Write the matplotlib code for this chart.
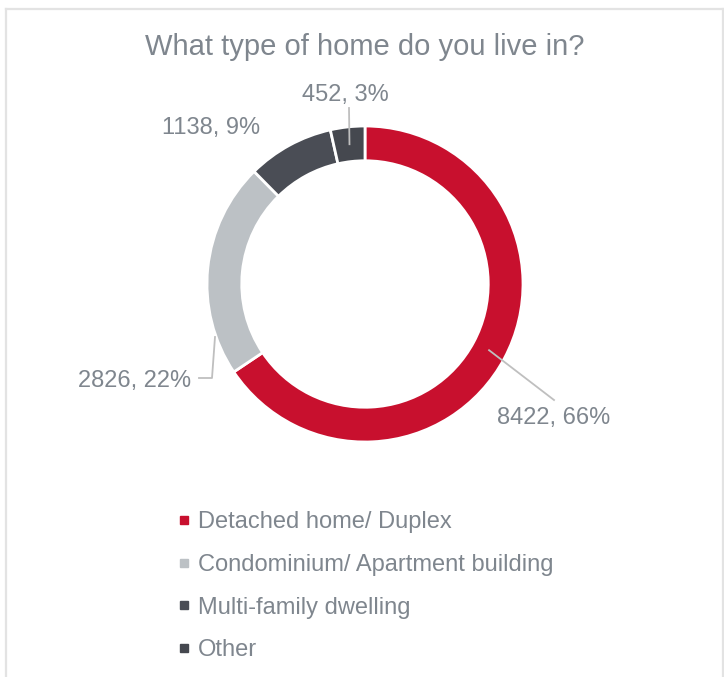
import matplotlib
matplotlib.use("Agg")
import numpy as np
import matplotlib.pyplot as plt
from matplotlib.lines import Line2D

categories = ["Detached home/ Duplex", "Condominium/ Apartment building",
              "Multi-family dwelling", "Other"]
counts = [8422, 2826, 1138, 452]
percents = [66, 22, 9, 3]
colors = ["#C8102E", "#BCC1C5", "#4A4D55", "#45484F"]

text_gray = "#7F868E"
line_gray = "#BFBFBF"
plt.rcParams["font.family"] = ["Liberation Sans", "DejaVu Sans"]

W, H = 724, 677
fig = plt.figure(figsize=(W / 100, H / 100), dpi=100)
ax = fig.add_axes([0, 0, 1, 1])

# donut centre and radius in pixels
cx, cy, R = 365, 284, 158


def px(x, y):
    return (x - cx) / R, (cy - y) / R


wedges, _ = ax.pie(counts, colors=colors, startangle=90, counterclock=False,
                   radius=1.0,
                   wedgeprops=dict(width=0.22, edgecolor="white", linewidth=2.0))
ax.set_xlim(-cx / R, (W - cx) / R)
ax.set_ylim(-(H - cy) / R, cy / R)
ax.set_aspect("auto")
ax.axis("off")

labels = [f"{c}, {p}%" for c, p in zip(counts, percents)]

mid = lambda w: np.deg2rad((w.theta1 + w.theta2) / 2)
# Detached
a = mid(wedges[0])
p0 = (0.89 * np.cos(a), 0.89 * np.sin(a))
ax.plot([p0[0], px(554, 400)[0]], [p0[1], px(554, 400)[1]], color=line_gray, lw=1.3)
ax.text(*px(554, 418), labels[0], ha="center", va="center", fontsize=17, color=text_gray)
# Condominium (elbow leader)
xs, ys = zip(px(199, 378), px(212, 378), px(215, 337))
ax.plot(xs, ys, color=line_gray, lw=1.3)
ax.text(*px(191, 381), labels[1], ha="right", va="center", fontsize=17, color=text_gray)
# Multi-family
ax.text(*px(211, 128), labels[2], ha="center", va="center", fontsize=17, color=text_gray)
# Other
a = mid(wedges[3])
p3 = (0.89 * np.cos(a), 0.89 * np.sin(a))
ax.plot([p3[0], px(349, 108)[0]], [p3[1], px(349, 108)[1]], color=line_gray, lw=1.3)
ax.text(*px(345, 95), labels[3], ha="center", va="center", fontsize=17, color=text_gray)

fig.text(365 / W, 1 - 47 / H, "What type of home do you live in?", ha="center",
         va="center", fontsize=21, color=text_gray)

handles = [Line2D([], [], marker="s", linestyle="none", markersize=5.5,
                  markerfacecolor=c, markeredgecolor=c) for c in colors]
leg = fig.legend(handles, categories, loc="upper left",
                 bbox_to_anchor=(177 / W, 1 - 511 / H), frameon=False,
                 fontsize=17, labelcolor=text_gray, handlelength=0.6,
                 handletextpad=0.3, labelspacing=0.88, borderpad=0,
                 borderaxespad=0)

# chart frame
border = "#E3E3E3"
fig.add_artist(Line2D([5.5 / W, 722.5 / W], [1 - 9 / H, 1 - 9 / H], color=border, lw=1.6))
fig.add_artist(Line2D([5.5 / W, 5.5 / W], [0, 1 - 9 / H], color=border, lw=1.6))
fig.add_artist(Line2D([722.5 / W, 722.5 / W], [0, 1 - 9 / H], color=border, lw=1.6))

fig.savefig("out.png", dpi=100)
